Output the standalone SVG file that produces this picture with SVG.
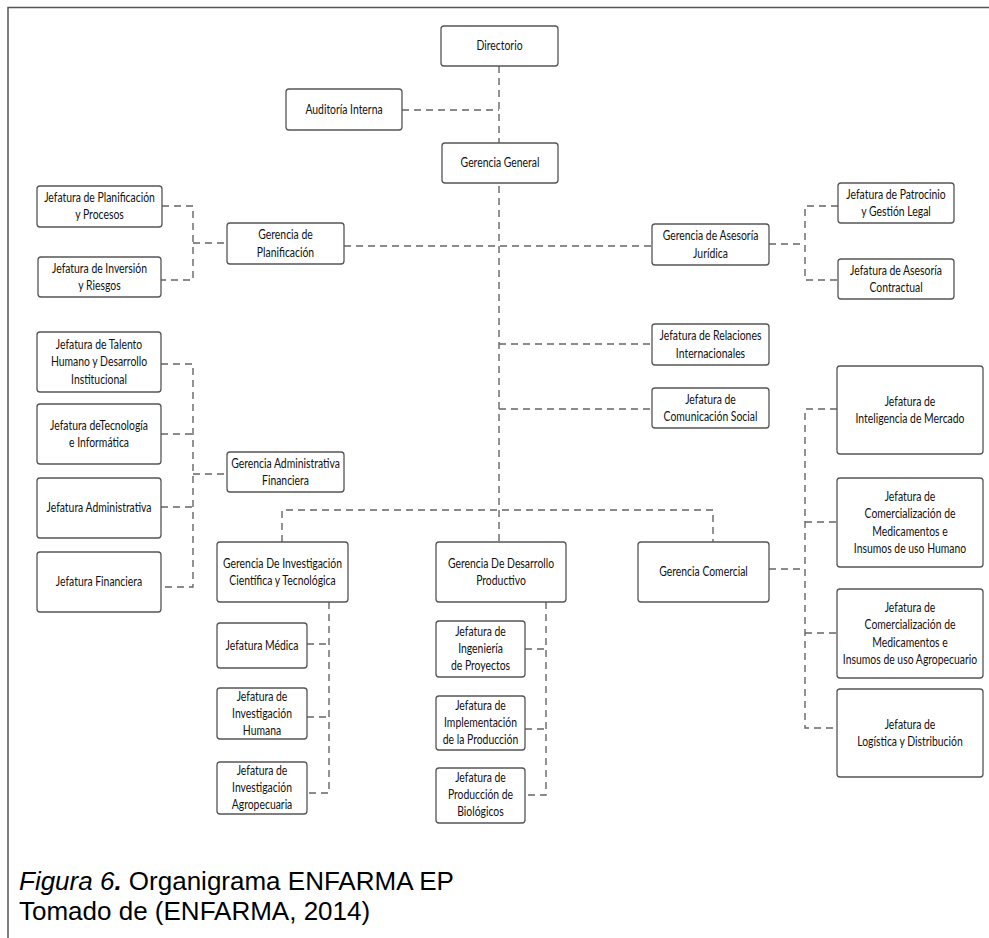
<svg xmlns="http://www.w3.org/2000/svg" width="989" height="938" viewBox="0 0 989 938">
<style>
.frame{fill:none;stroke:#555;stroke-width:1.5}
.box{fill:#fff;stroke:#555;stroke-width:1.3}
.c{fill:none;stroke:#666;stroke-width:1.4;stroke-dasharray:7 5}
.t{font-family:Lato,"Open Sans","DejaVu Sans",sans-serif;font-size:13px;text-anchor:middle;fill:#111}
.cap{font-family:"Liberation Sans",Arial,sans-serif;font-size:26px;fill:#000}
</style>
<rect width="989" height="938" fill="#fff"/>
<path class="frame" d="M8,938 V7.5 H989"/>
<g id="connectors">
<path class="c" d="M499,66 V542"/>
<path class="c" d="M402,110 H499"/>
<path class="c" d="M344,246 H652"/>
<path class="c" d="M162,206 H193 V280 H161 M193,243 H227"/>
<path class="c" d="M769,244 H805 M838,206 H805 V280 H838"/>
<path class="c" d="M499,344 H652"/>
<path class="c" d="M499,409 H652"/>
<path class="c" d="M161,364 H193 V587 H161 M161,434 H193 M161,507 H193 M193,474 H227"/>
<path class="c" d="M282,542 V510 H713 V542"/>
<path class="c" d="M329,602 V793 H307 M307,644 H329 M307,717 H329"/>
<path class="c" d="M546,602 V795 H525 M525,649 H546 M525,729 H546"/>
<path class="c" d="M769,569 H805 M837,409 H805 V728 H837 M805,522 H837 M805,633 H837"/>
</g>
<g id="directorio"><rect class="box" x="441" y="26" width="117" height="40" rx="3"/><text class="t" transform="translate(499.5,0) scale(0.8,1)"><tspan x="0" y="50.5">Directorio</tspan></text></g>
<g id="auditoria-interna"><rect class="box" x="286" y="89" width="116" height="41" rx="3"/><text class="t" transform="translate(344,0) scale(0.8,1)"><tspan x="0" y="114">Auditoría Interna</tspan></text></g>
<g id="gerencia-general"><rect class="box" x="442" y="143" width="116" height="40" rx="3"/><text class="t" transform="translate(500,0) scale(0.8,1)"><tspan x="0" y="167.5">Gerencia General</tspan></text></g>
<g id="jef-planificacion"><rect class="box" x="37" y="186" width="125" height="41" rx="3"/><text class="t" transform="translate(99.5,0) scale(0.8,1)"><tspan x="0" y="202">Jefatura de Planificación</tspan><tspan x="0" y="219.5">y Procesos</tspan></text></g>
<g id="jef-inversion"><rect class="box" x="38" y="257" width="123" height="40" rx="3"/><text class="t" transform="translate(99.5,0) scale(0.8,1)"><tspan x="0" y="272.7">Jefatura de Inversión</tspan><tspan x="0" y="290.2">y Riesgos</tspan></text></g>
<g id="ger-planificacion"><rect class="box" x="227" y="223" width="117" height="41" rx="3"/><text class="t" transform="translate(285.5,0) scale(0.8,1)"><tspan x="0" y="239.2">Gerencia de</tspan><tspan x="0" y="256.7">Planificación</tspan></text></g>
<g id="ger-asesoria"><rect class="box" x="652" y="224" width="117" height="41" rx="3"/><text class="t" transform="translate(710.5,0) scale(0.8,1)"><tspan x="0" y="240.2">Gerencia de Asesoría</tspan><tspan x="0" y="257.7">Jurídica</tspan></text></g>
<g id="jef-patrocinio"><rect class="box" x="838" y="183" width="116" height="40" rx="3"/><text class="t" transform="translate(896,0) scale(0.8,1)"><tspan x="0" y="198.7">Jefatura de Patrocinio</tspan><tspan x="0" y="216.2">y Gestión Legal</tspan></text></g>
<g id="jef-asesoria-contractual"><rect class="box" x="838" y="259" width="116" height="40" rx="3"/><text class="t" transform="translate(896,0) scale(0.8,1)"><tspan x="0" y="274.7">Jefatura de Asesoría</tspan><tspan x="0" y="292.2">Contractual</tspan></text></g>
<g id="jef-relaciones"><rect class="box" x="652" y="324" width="117" height="41" rx="3"/><text class="t" transform="translate(710.5,0) scale(0.8,1)"><tspan x="0" y="340.2">Jefatura de Relaciones</tspan><tspan x="0" y="357.7">Internacionales</tspan></text></g>
<g id="jef-comunicacion"><rect class="box" x="652" y="388" width="117" height="40" rx="3"/><text class="t" transform="translate(710.5,0) scale(0.8,1)"><tspan x="0" y="403.7">Jefatura de</tspan><tspan x="0" y="421.2">Comunicación Social</tspan></text></g>
<g id="jef-talento"><rect class="box" x="37" y="332" width="124" height="60" rx="3"/><text class="t" transform="translate(99,0) scale(0.8,1)"><tspan x="0" y="349">Jefatura de Talento</tspan><tspan x="0" y="366.5">Humano y Desarrollo</tspan><tspan x="0" y="384">Institucional</tspan></text></g>
<g id="jef-tecnologia"><rect class="box" x="37" y="404" width="124" height="60" rx="3"/><text class="t" transform="translate(99,0) scale(0.8,1)"><tspan x="0" y="429.7">Jefatura deTecnología</tspan><tspan x="0" y="447.2">e Informática</tspan></text></g>
<g id="jef-administrativa"><rect class="box" x="37" y="478" width="124" height="60" rx="3"/><text class="t" transform="translate(99,0) scale(0.8,1)"><tspan x="0" y="512.5">Jefatura Administrativa</tspan></text></g>
<g id="jef-financiera"><rect class="box" x="37" y="552" width="124" height="60" rx="3"/><text class="t" transform="translate(99,0) scale(0.8,1)"><tspan x="0" y="586.5">Jefatura Financiera</tspan></text></g>
<g id="ger-admin-financiera"><rect class="box" x="227" y="452" width="117" height="40" rx="3"/><text class="t" transform="translate(285.5,0) scale(0.8,1)"><tspan x="0" y="467.7">Gerencia Administrativa</tspan><tspan x="0" y="485.2">Financiera</tspan></text></g>
<g id="ger-investigacion"><rect class="box" x="217" y="542" width="131" height="60" rx="3"/><text class="t" transform="translate(282.5,0) scale(0.8,1)"><tspan x="0" y="567.7">Gerencia De Investigación</tspan><tspan x="0" y="585.2">Científica y Tecnológica</tspan></text></g>
<g id="ger-desarrollo"><rect class="box" x="436" y="542" width="130" height="60" rx="3"/><text class="t" transform="translate(501,0) scale(0.8,1)"><tspan x="0" y="567.7">Gerencia De Desarrollo</tspan><tspan x="0" y="585.2">Productivo</tspan></text></g>
<g id="ger-comercial"><rect class="box" x="638" y="542" width="131" height="60" rx="3"/><text class="t" transform="translate(703.5,0) scale(0.8,1)"><tspan x="0" y="576.5">Gerencia Comercial</tspan></text></g>
<g id="jef-inteligencia"><rect class="box" x="837" y="366" width="146" height="88" rx="3"/><text class="t" transform="translate(910,0) scale(0.8,1)"><tspan x="0" y="405.7">Jefatura de</tspan><tspan x="0" y="423.2">Inteligencia de Mercado</tspan></text></g>
<g id="jef-com-humano"><rect class="box" x="837" y="478" width="146" height="89" rx="3"/><text class="t" transform="translate(910,0) scale(0.8,1)"><tspan x="0" y="500.7">Jefatura de</tspan><tspan x="0" y="518.2">Comercialización de</tspan><tspan x="0" y="535.7">Medicamentos e</tspan><tspan x="0" y="553.2">Insumos de uso Humano</tspan></text></g>
<g id="jef-com-agropecuario"><rect class="box" x="837" y="589" width="146" height="89" rx="3"/><text class="t" transform="translate(910,0) scale(0.8,1)"><tspan x="0" y="611.7">Jefatura de</tspan><tspan x="0" y="629.2">Comercialización de</tspan><tspan x="0" y="646.7">Medicamentos e</tspan><tspan x="0" y="664.2">Insumos de uso Agropecuario</tspan></text></g>
<g id="jef-logistica"><rect class="box" x="837" y="689" width="146" height="88" rx="3"/><text class="t" transform="translate(910,0) scale(0.8,1)"><tspan x="0" y="728.7">Jefatura de</tspan><tspan x="0" y="746.2">Logística y Distribución</tspan></text></g>
<g id="jef-medica"><rect class="box" x="217" y="623" width="90" height="45" rx="3"/><text class="t" transform="translate(262,0) scale(0.8,1)"><tspan x="0" y="650">Jefatura Médica</tspan></text></g>
<g id="jef-inv-humana"><rect class="box" x="217" y="688" width="90" height="51" rx="3"/><text class="t" transform="translate(262,0) scale(0.8,1)"><tspan x="0" y="701.5">Jefatura de</tspan><tspan x="0" y="718.5">Investigación</tspan><tspan x="0" y="735.5">Humana</tspan></text></g>
<g id="jef-inv-agropecuaria"><rect class="box" x="217" y="762" width="90" height="52" rx="3"/><text class="t" transform="translate(262,0) scale(0.8,1)"><tspan x="0" y="775.5">Jefatura de</tspan><tspan x="0" y="792.5">Investigación</tspan><tspan x="0" y="809.5">Agropecuaria</tspan></text></g>
<g id="jef-ingenieria"><rect class="box" x="436" y="621" width="89" height="56" rx="3"/><text class="t" transform="translate(480.5,0) scale(0.8,1)"><tspan x="0" y="636">Jefatura de</tspan><tspan x="0" y="653">Ingeniería</tspan><tspan x="0" y="670">de Proyectos</tspan></text></g>
<g id="jef-implementacion"><rect class="box" x="436" y="696" width="89" height="54" rx="3"/><text class="t" transform="translate(480.5,0) scale(0.8,1)"><tspan x="0" y="710">Jefatura de</tspan><tspan x="0" y="727">Implementación</tspan><tspan x="0" y="744">de la Producción</tspan></text></g>
<g id="jef-biologicos"><rect class="box" x="436" y="768" width="89" height="55" rx="3"/><text class="t" transform="translate(480.5,0) scale(0.8,1)"><tspan x="0" y="782.5">Jefatura de</tspan><tspan x="0" y="799.5">Producción de</tspan><tspan x="0" y="816.5">Biológicos</tspan></text></g>
<g id="caption">
<text class="cap" x="19" y="890"><tspan font-style="italic">Figura 6</tspan><tspan font-style="italic" font-weight="bold">.</tspan> Organigrama ENFARMA EP</text>
<text class="cap" x="19" y="920">Tomado de (ENFARMA, 2014)</text>
</g>
</svg>
